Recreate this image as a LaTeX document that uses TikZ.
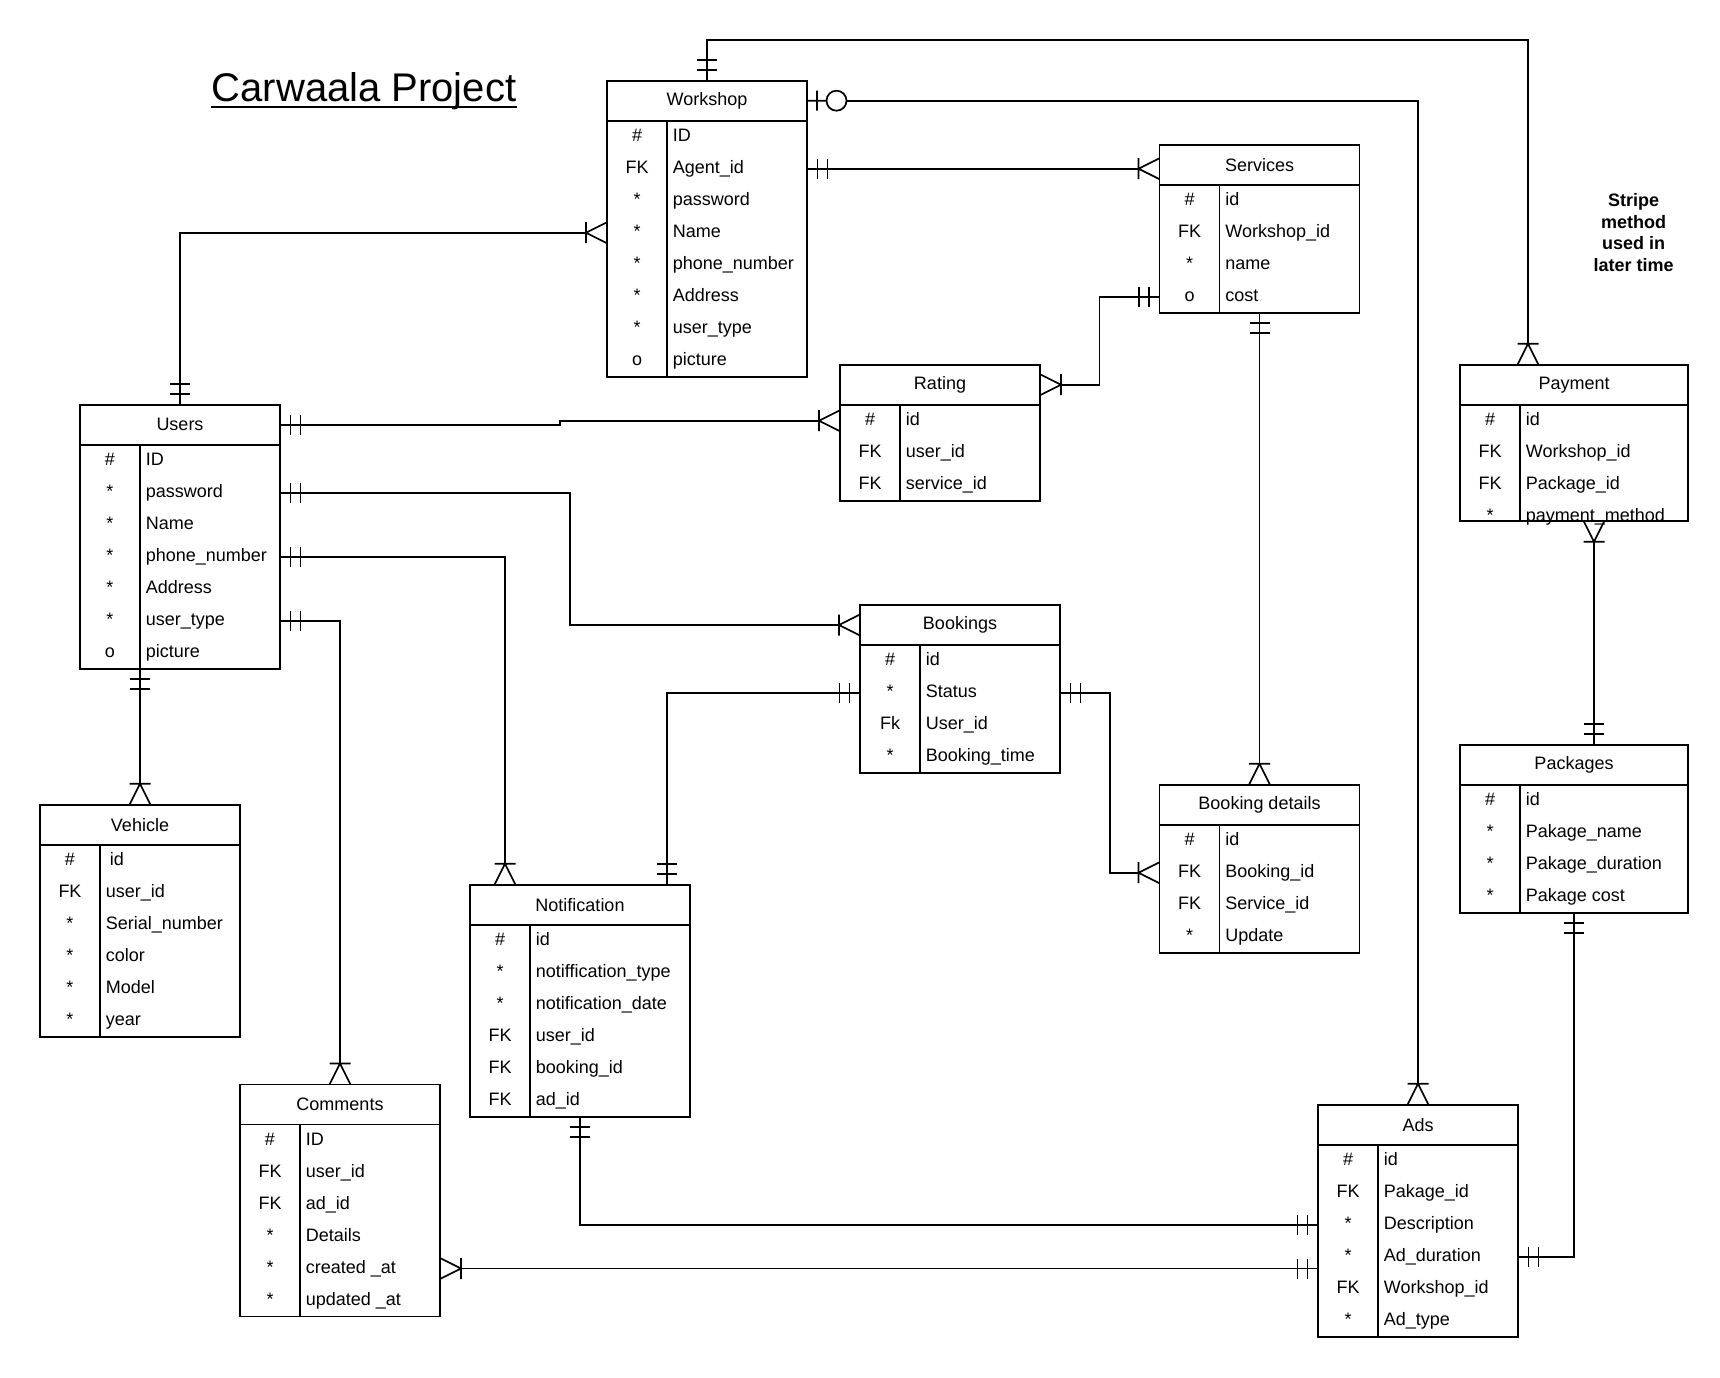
\documentclass[tikz,border=0pt]{standalone}
\usepackage{fontspec}
\setmainfont{Liberation Sans}
\usetikzlibrary{positioning,calc}

% crow's foot tips
\pgfdeclarearrow{
  name = erone,
  parameters = {\the\pgflinewidth},
  setup code = {
    \pgfarrowssettipend{0pt}
    \pgfarrowssetlineend{0pt}
    \pgfarrowssetbackend{-21pt}
    \pgfarrowssetvisualbackend{-21pt}
    \pgfarrowsupperhullpoint{0pt}{10pt}
    \pgfarrowsupperhullpoint{-21pt}{10pt}
  },
  drawing code = {
    \pgfpathmoveto{\pgfqpoint{-10.5pt}{-10pt}}
    \pgfpathlineto{\pgfqpoint{-10.5pt}{10pt}}
    \pgfpathmoveto{\pgfqpoint{-20.5pt}{-10pt}}
    \pgfpathlineto{\pgfqpoint{-20.5pt}{10pt}}
    \pgfusepathqstroke
  }
}
\pgfdeclarearrow{
  name = ermany,
  parameters = {\the\pgflinewidth},
  setup code = {
    \pgfarrowssettipend{0pt}
    \pgfarrowssetlineend{-21pt}
    \pgfarrowssetbackend{-21pt}
    \pgfarrowssetvisualbackend{-21pt}
    \pgfarrowsupperhullpoint{0pt}{10.5pt}
    \pgfarrowsupperhullpoint{-21pt}{10.5pt}
  },
  drawing code = {
    \pgfpathmoveto{\pgfqpoint{0pt}{10.5pt}}
    \pgfpathlineto{\pgfqpoint{-21pt}{0pt}}
    \pgfpathlineto{\pgfqpoint{0pt}{-10.5pt}}
    \pgfpathmoveto{\pgfqpoint{-21pt}{10.5pt}}
    \pgfpathlineto{\pgfqpoint{-21pt}{-10.5pt}}
    \pgfusepathqstroke
  }
}
\pgfdeclarearrow{
  name = erzo,
  parameters = {\the\pgflinewidth},
  setup code = {
    \pgfarrowssettipend{0pt}
    \pgfarrowssetlineend{-39.5pt}
    \pgfarrowssetbackend{-39.5pt}
    \pgfarrowssetvisualbackend{-39.5pt}
    \pgfarrowsupperhullpoint{0pt}{10pt}
    \pgfarrowsupperhullpoint{-39.5pt}{10pt}
  },
  drawing code = {
    \pgfpathmoveto{\pgfqpoint{0pt}{0pt}}
    \pgfpathlineto{\pgfqpoint{-19.5pt}{0pt}}
    \pgfpathmoveto{\pgfqpoint{-10pt}{-10pt}}
    \pgfpathlineto{\pgfqpoint{-10pt}{10pt}}
    \pgfpathcircle{\pgfqpoint{-29.5pt}{0pt}}{10pt}
    \pgfusepathqstroke
  }
}

% table: name, top left, width, body height, title, key/field rows
\newcommand{\ertable}[6]{%
  \node[erhead, minimum width=#3, anchor=north west] (#1) at (#2) {#5};
  \node[erbody, minimum width=#3, minimum height=#4, below=0pt of #1] (#1b) {};
  \draw ($(#1b.north west)+(60,0)$) -- ($(#1b.south west)+(60,0)$);
  \foreach \rk/\rf [count=\ri] in {#6} {
    \node[erkey] (#1k\ri) at ($(#1b.north west)+(30,{16+32*(\ri-1)})$) {\rk};
    \node[erfield] (#1f\ri) at ($(#1b.north west)+(65,{16+32*(\ri-1)})$) {\rf};
  }%
}

\begin{document}
\begin{tikzpicture}[
    x=1pt, y=-1pt,
    line width=1.7pt,
    every node/.style={font=\fontsize{18}{22}\selectfont},
    erhead/.style={rectangle, draw, outer sep=0pt, minimum height=40},
    erbody/.style={rectangle, draw, outer sep=0pt},
    erkey/.style={inner sep=0pt, text height=13pt, text depth=4pt},
    erfield/.style={inner sep=0pt, anchor=west, text height=13pt, text depth=4pt}
]
\path[use as bounding box] (0,0) rectangle (1720,1377);

\node[font=\fontsize{40}{48}\selectfont, inner sep=0pt, anchor=base] (title) at (364,101.5) {Carwaala Project};
\draw[line width=2pt] ([yshift=-5.5pt]title.base west) -- ([yshift=-5.5pt]title.base east);
\node[align=center, font=\bfseries\fontsize{18}{21.7}\selectfont] (note) at (1633.5,232.5) {Stripe\\method\\used in\\later time};

\ertable{ws}{607,80.7}{200}{256}{Workshop}{\#/ID, FK/Agent\_id, */password, */Name, */phone\_number, */Address, */user\_type, o/picture}
\ertable{sv}{1159.5,144.7}{200}{128}{Services}{\#/id, FK/Workshop\_id, */name, o/cost}
\ertable{us}{80,404.7}{200}{224}{Users}{\#/ID, */password, */Name, */phone\_number, */Address, */user\_type, o/picture}
\ertable{rt}{840,364.7}{200}{96}{Rating}{\#/id, FK/user\_id, FK/service\_id}
\ertable{pay}{1460,364.7}{228}{116}{Payment}{\#/id, FK/Workshop\_id, FK/Package\_id, */payment\_method}
\ertable{bk}{860,605}{200}{128}{Bookings}{\#/id, */Status, Fk/User\_id, */Booking\_time}
\ertable{vh}{40,804.8}{200}{192}{Vehicle}{\#/\hspace{4pt}id, FK/user\_id, */Serial\_number, */color, */Model, */year}
\ertable{nt}{470,884.7}{220}{192}{Notification}{\#/id, */notiffication\_type, */notification\_date, FK/user\_id, FK/booking\_id, FK/ad\_id}
\ertable{bd}{1159.5,784.7}{200}{128}{Booking details}{\#/id, FK/Booking\_id, FK/Service\_id, */Update}
\ertable{pk}{1460,744.7}{228}{128}{Packages}{\#/id, */Pakage\_name, */Pakage\_duration, */Pakage cost}
\ertable{cm}{240,1084.5}{200}{192}{Comments}{\#/ID, FK/user\_id, FK/ad\_id, */Details, */created \_at, */updated \_at}
\ertable{ad}{1318,1104.7}{200}{192}{Ads}{\#/id, FK/Pakage\_id, */Description, */Ad\_duration, FK/Workshop\_id, */Ad\_type}

% relations
\draw[{erone}-{ermany}] (ws.north) -- ++(0,-40.7) -| ([xshift=-46pt]pay.north);
\draw[{erzo}-{ermany}] (ws.east) -| (ad.north);
\draw[{erone}-{ermany}] (wsk2 -| wsb.east) -- (wsk2 -| sv.west);
\draw[{ermany}-{erone}] (wsk4 -| wsb.west) -| (us.north);
\draw[{erone}-{ermany}] (us.east) -- ++(280,0) |- (rtk1 -| rtb.west);
\draw[{erone}-{ermany}] (usk2 -| usb.east) -- ++(290,0) |- (bk.west);
\draw[{erone}-{ermany}] (usk4 -| usb.east) -| ([xshift=35pt]nt.north west);
\draw[{erone}-{ermany}] (usk6 -| usb.east) -| (cm.north);
\draw[{erone}-{ermany}] (vh.north |- usb.south) -- (vh.north);
\draw[{erone}-{ermany}] (svk4 -| svb.west) -- ++(-60,0) |- (rt.east);
\draw[{erone}-{ermany}] (svb.south) -- (bd.north);
\draw[{erone}-{ermany}] (bkk2 -| bkb.east) -- ++(50,0) |- (bdk2 -| bdb.west);
\draw[{erone}-{erone}] (bkk2 -| bkb.west) -| ([xshift=-23pt]nt.north east);
\draw[{erone}-{erone}] (ntb.south) |- (adk3 -| adb.west);
\draw[{ermany}-{erone}] (cmk5 -| cmb.east) -- (cmk5 -| adb.west);
\draw[{erone}-{erone}] (adk4 -| adb.east) -| (pkb.south);
\draw[{ermany}-{erone}] ([xshift=20pt]payb.south) -- ([xshift=20pt]pk.north);
\end{tikzpicture}
\end{document}
